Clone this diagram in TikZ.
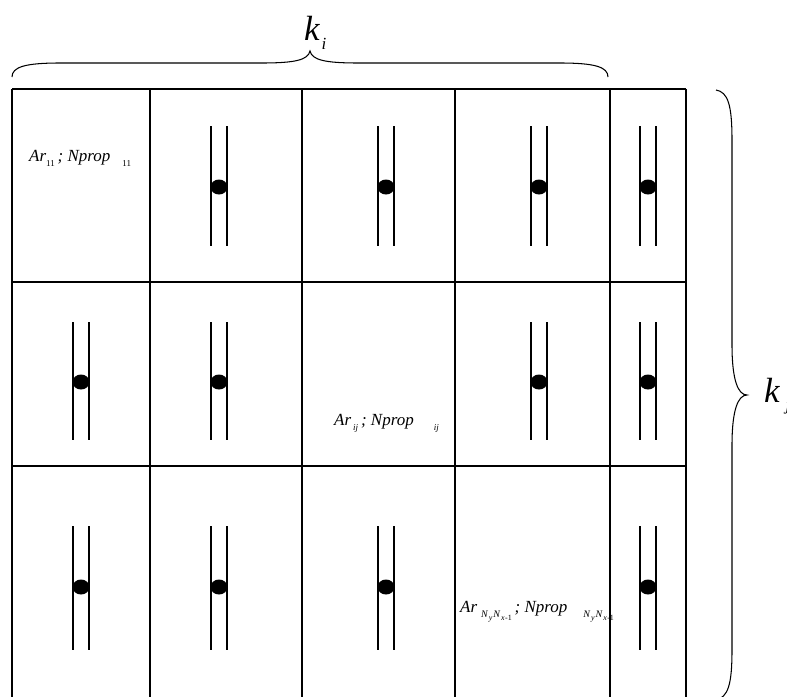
\documentclass[tikz,border=0pt]{standalone}
\usepackage{fontspec}
\setmainfont{Liberation Serif}
\newcommand\sbs[1]{\raisebox{-0.3em}{\fontsize{9}{9}\selectfont #1}}
\newcommand\bsbs[1]{\raisebox{-0.35em}{\fontsize{10}{10}\selectfont #1}}
\newcommand\ssbs[1]{\raisebox{-0.3em}{\fontsize{8}{8}\selectfont #1}}
\newcommand\wellat[4]{%
  \draw[wl] (#1-8,#2) -- (#1-8,#3) (#1+8,#2) -- (#1+8,#3);
  \fill (#1,#4) ellipse [x radius=8.5, y radius=7.5];}
\begin{document}
\begin{tikzpicture}[x=1pt,y=-1pt,
  gridline/.style={line width=1.05pt},
  wl/.style={line width=1.05pt},
  brc/.style={line width=1.05pt},
  lbl/.style={anchor=base west, inner sep=0pt, font=\fontsize{17}{17}\selectfont\itshape},
  big/.style={anchor=base west, inner sep=0pt, font=\fontsize{35}{35}\selectfont\itshape}]
\useasboundingbox (0,0) rectangle (787,696);
\clip (0,0) rectangle (787,696);
\fill[white] (0,0) rectangle (787,696);
% grid
\draw[gridline] (12,89) -- (686,89);
\draw[gridline] (12,282) -- (686,282);
\draw[gridline] (12,466) -- (686,466);
\foreach \x in {12,150,302,455,610,686} \draw[gridline] (\x,89) -- (\x,700);
% wells row 1
\foreach \x in {219,386,539,648} {\wellat{\x}{126}{246}{187}}
% wells row 2
\foreach \x in {81,219,539,648} {\wellat{\x}{322}{440}{382}}
% wells row 3
\foreach \x in {81,219,386,648} {\wellat{\x}{526}{650}{587}}
% texts
\node[lbl] (t11) at (29,161) {Ar\sbs{\upshape 11}\,; Nprop\hspace{12pt}\sbs{\upshape 11}};
\node[lbl] (tij) at (334,425) {Ar\hspace{2pt}\sbs{ij}\,; Nprop\hspace{20pt}\sbs{ij}};
\node[lbl] (tn) at (460,612) {Ar\hspace{4pt}\bsbs{N\kern1pt\ssbs{y}\kern1pt N\kern1pt\ssbs{x\upshape{}\kern0.5pt{}-1}}\,; Nprop\hspace{16pt}\bsbs{N\kern1pt\ssbs{y}\kern1pt N\kern1pt\ssbs{x\upshape{}\kern0.5pt{}-1}}};
% top brace
\draw[brc] (12,77) .. controls (12,67) and (25,63) .. (60,63) -- (262,63)
  .. controls (295,63) and (308,60) .. (310,51)
  .. controls (312,60) and (325,63) .. (358,63) -- (560,63)
  .. controls (595,63) and (608,67) .. (608,77);
\node[big] (ki) at (304,40) {k\raisebox{-9pt}{\fontsize{17}{17}\selectfont\kern2pt i}};
% right brace
\draw[brc] (716,90) .. controls (728,92) and (732,105) .. (732,140) -- (732,345)
  .. controls (732,380) and (738,395) .. (747,395)
  .. controls (738,395) and (732,410) .. (732,445) -- (732,650)
  .. controls (732,685) and (728,697) .. (716,700);
\node[big] (kj) at (764,402) {k\raisebox{-8pt}{\fontsize{17}{17}\selectfont\kern6pt j}};
\end{tikzpicture}
\end{document}
